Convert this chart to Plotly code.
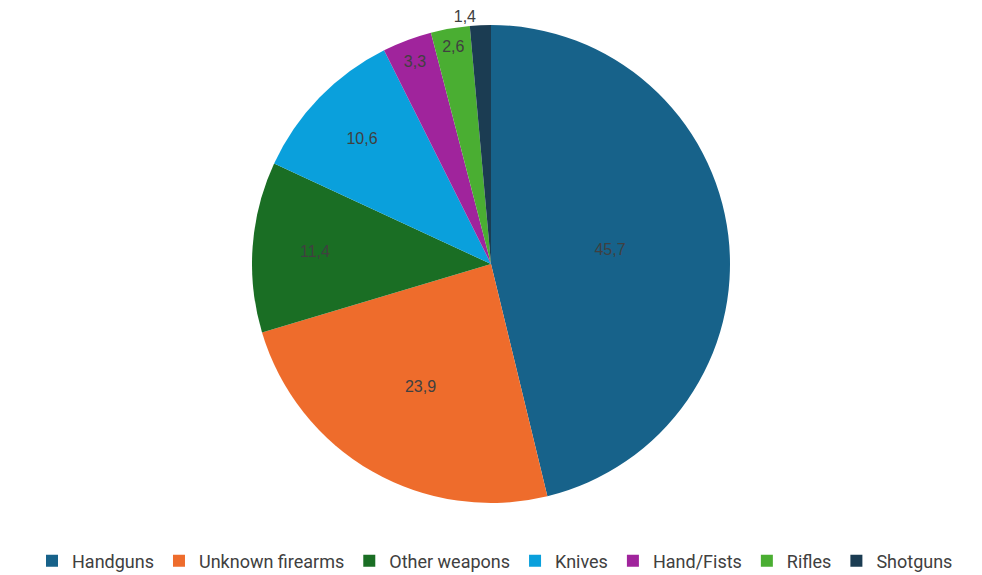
import plotly.graph_objects as go

categories = ["Handguns", "Unknown firearms", "Other weapons", "Knives", "Hand/Fists", "Rifles", "Shotguns"]
values = [45.7, 23.9, 11.4, 10.6, 3.3, 2.6, 1.4]
colors = ["#17628a", "#ee6c2c", "#1a6e24", "#0aa0dc", "#a0249c", "#4aae32", "#1b3c52"]
text_positions = ["inside", "inside", "inside", "inside", "inside", "inside", "outside"]

W, H = 982, 575
OFF = 8  # page body offset in the browser
top_px, bot_px = 25 - OFF, 503 - OFF
cx_px = 491 - OFF

fig = go.Figure(go.Pie(
    labels=categories,
    values=values,
    sort=False,
    direction="clockwise",
    rotation=0,
    marker=dict(colors=colors, line=dict(width=0)),
    texttemplate="%{value:.1f}",
    textposition=text_positions,
    insidetextorientation="horizontal",
    textfont=dict(family="Liberation Sans, Arial, sans-serif", size=16, color="#404040"),
    domain=dict(x=[0, 2 * cx_px / W], y=[(H - bot_px) / H, (H - top_px) / H]),
    hoverinfo="label+value",
))

fig.update_layout(
    width=W, height=H,
    separators=",.",
    margin=dict(l=0, r=0, t=0, b=0, autoexpand=False),
    paper_bgcolor="white",
    plot_bgcolor="white",
    uniformtext=dict(minsize=16, mode="show"),
    showlegend=True,
    legend=dict(
        orientation="h",
        x=(495 - OFF) / W, xanchor="center",
        y=(H - (561 - OFF)) / H, yanchor="middle",
        font=dict(family="Roboto, sans-serif", size=18, color="#404040"),
        itemsizing="constant",
        itemwidth=30,
        traceorder="normal",
    ),
)

fig.write_html("out.html")
